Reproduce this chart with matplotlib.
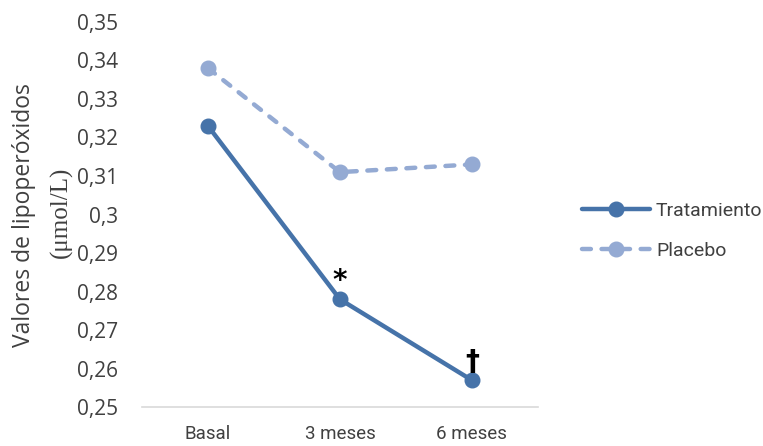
import matplotlib
matplotlib.use("Agg")
import matplotlib.pyplot as plt

# datos
periodos = ["Basal", "3 meses", "6 meses"]
tratamiento = [0.323, 0.278, 0.257]
placebo = [0.338, 0.311, 0.313]
y_ticks = [0.25, 0.26, 0.27, 0.28, 0.29, 0.30, 0.31, 0.32, 0.33, 0.34, 0.35]
y_tick_labels = ["0,25", "0,26", "0,27", "0,28", "0,29", "0,3", "0,31", "0,32", "0,33", "0,34", "0,35"]
marcas = {1: "*", 2: "\u2020"}  # significancia sobre Tratamiento

angosta = ["Roboto", "DejaVu Sans"]
plt.rcParams["font.family"] = ["Open Sans", "DejaVu Sans"]

fig = plt.figure(figsize=(7.63, 4.46), dpi=100)
ax = fig.add_axes([0.186, 0.087, 0.519, 0.864])

x = list(range(len(periodos)))
c_trat = "#4673a9"
c_plac = "#94aad3"

ax.plot(x, placebo, color=c_plac, lw=3.2, ls=(0, (2.0, 2.4)), marker="o", ms=10.5,
        dash_capstyle="round", label="Placebo", zorder=2)
ax.plot(x, tratamiento, color=c_trat, lw=3.2, marker="o", ms=10.5,
        solid_capstyle="round", label="Tratamiento", zorder=3)

for i, s in marcas.items():
    ax.annotate(s, (x[i], tratamiento[i]), xytext=(0, 3), textcoords="offset points",
                ha="center", va="bottom", fontsize=20, fontweight="bold", color="black",
                family="DejaVu Sans")

ax.set_xlim(-0.5, 2.5)
ax.set_ylim(0.25, 0.35)
ax.set_xticks(x)
ax.set_xticklabels(periodos, fontsize=13.5, color="#404040", family=angosta)
ax.set_yticks(y_ticks)
ax.set_yticklabels(y_tick_labels, fontsize=15, color="#404040")
ax.tick_params(axis="x", length=0, pad=13)
ax.tick_params(axis="y", length=0, pad=17)
for s in ["top", "right", "left"]:
    ax.spines[s].set_visible(False)
ax.spines["bottom"].set_color("#d9d9d9")
ax.spines["bottom"].set_linewidth(1.2)

# etiqueta del eje y en dos lineas con fuentes distintas
fig.text(0.032, 0.518, "Valores de lipoperóxidos", rotation=90, ha="center", va="center",
         fontsize=16.5, color="#404040")
fig.text(0.080, 0.525, "(\u03bcmol/L)", rotation=90, ha="center", va="center",
         fontsize=18, color="#404040", family=["Liberation Serif", "DejaVu Serif"])

h, l = ax.get_legend_handles_labels()
fig.legend(h[::-1], l[::-1], loc="center left", bbox_to_anchor=(0.74, 0.482),
           frameon=False, handlelength=3.5, labelspacing=1.15,
           handletextpad=0.3, labelcolor="#404040",
           prop={"family": angosta, "size": 14})

fig.savefig("out.png", dpi=100)
